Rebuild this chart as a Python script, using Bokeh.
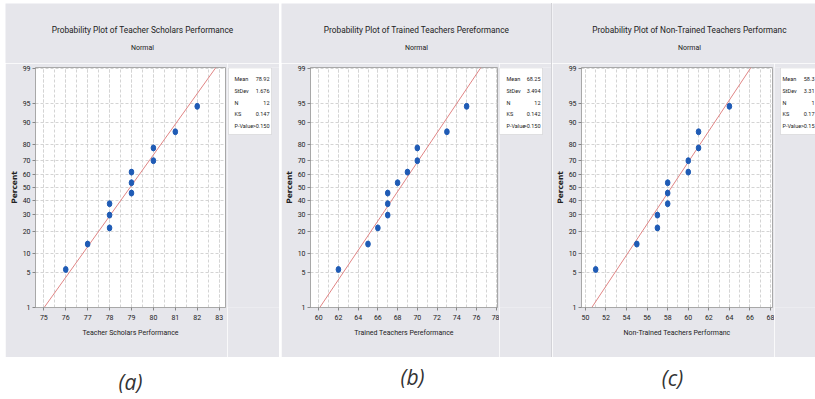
from statistics import NormalDist
from bokeh.plotting import figure
from bokeh.models import Range1d, FixedTicker, SingleIntervalTicker, Label, BoxAnnotation, Spacer
from bokeh.layouts import row, column
from bokeh.embed import file_html
from bokeh.resources import INLINE

# ---------------- data ----------------
percent = [5.6, 13.7, 21.8, 29.8, 37.9, 46.0, 54.0, 62.1, 70.2, 78.2, 86.3, 94.4]
scholars = [76, 77, 78, 78, 78, 79, 79, 79, 80, 80, 81, 82]
trained = [62, 65, 66, 67, 67, 67, 68, 69, 70, 70, 73, 75]
nontrained = [51, 55, 57, 57, 58, 58, 58, 60, 60, 61, 61, 64]
means = [78.92, 68.25, 58.33]
sds = [1.676, 3.494, 3.31]
y_tick_percents = [1, 5, 10, 20, 30, 40, 50, 60, 70, 80, 90, 95, 99]
titles = ["Probability Plot of Teacher Scholars Performance",
          "Probability Plot of Trained Teachers Pereformance",
          "Probability Plot of Non-Trained Teachers Performanc"]
subtitle = "Normal"
x_labels = ["Teacher Scholars Performance", "Trained Teachers Pereformance",
            "Non-Trained Teachers Performanc"]
y_label = "Percent"
stat_names = ["Mean", "StDev", "N", "KS", "P-Value"]
stats_a = ["78.92", "1.676", "12", "0.147", ">0.150"]
stats_b = ["68.25", "3.494", "12", "0.142", ">0.150"]
stats_c = ["58.3", "3.31", "1", "0.17", ">0.15"]   # cut off at the picture's edge
panel_letters = ["(a)", "(b)", "(c)"]

# ---------------- style ----------------
PANEL_BG = "#e6e6eb"
FONT = "Roboto"
BLUE = "#1f5bb5"
LINE = "#e08585"
GRID = "#d4d4d4"
FRAME = "#a8a8a8"
TXT = "#222222"

def zq(pct):
    return NormalDist().inv_cdf(pct / 100.0)

Y_LO, Y_HI = -2.33, 2.346
TOP = 3           # panel top (page y)
TITLE_H = 60      # title strip height
PLOT_TOP = TOP + TITLE_H
PANEL_BOTTOM = 357
PLOT_H = PANEL_BOTTOM - PLOT_TOP
FRAME_TOP, FRAME_BOTTOM = 67, 307


def free_fig(w, h, fill):
    f = figure(width=w, height=h, output_backend="svg", toolbar_location=None,
               x_range=Range1d(0, 1), y_range=Range1d(0, 1),
               x_axis_type=None, y_axis_type=None, min_border=0)
    f.title_location = None
    f.grid.visible = False
    f.outline_line_color = None
    f.border_fill_color = fill
    f.background_fill_color = fill
    return f


def put(fig, left, bottom, X, Y, text, size, align="left", font=FONT, style="normal", color=TXT):
    fig.add_layout(Label(x=X - left, y=bottom - Y, x_units="screen", y_units="screen",
                         text=text, text_font=font, text_font_size=size,
                         text_font_style=style, text_color=color,
                         text_align=align, text_baseline="middle"))


def make_panel(vals, mean, sd, title, xlabel, stats, cfg):
    x0, w = cfg["x0"], cfg["w"]
    fl, fr = cfg["fl"], cfg["fr"]
    plot_w = fr + 2 - x0
    stats_w = w - plot_w

    # title strip
    t = free_fig(w, TITLE_H, PANEL_BG)
    put(t, x0, PLOT_TOP, cfg["tc"], 29, title, "8.3px", "center")
    put(t, x0, PLOT_TOP, cfg["tc"], 47, subtitle, "7px", "center")

    # plot
    p = figure(width=plot_w, height=PLOT_H, output_backend="svg", toolbar_location=None,
               x_range=Range1d(*cfg["xr"]), y_range=Range1d(Y_LO, Y_HI),
               min_border_left=fl - x0, min_border_right=2,
               min_border_top=FRAME_TOP - PLOT_TOP,
               min_border_bottom=PANEL_BOTTOM - FRAME_BOTTOM)
    p.title_location = None
    p.border_fill_color = PANEL_BG
    p.background_fill_color = "white"
    p.outline_line_color = FRAME

    p.xaxis.ticker = SingleIntervalTicker(interval=cfg["iv"], num_minor_ticks=2)
    p.yaxis.ticker = FixedTicker(ticks=[zq(v) for v in y_tick_percents])
    p.yaxis.major_label_overrides = {zq(v): str(v) for v in y_tick_percents}
    for g in (p.xgrid, p.ygrid):
        g.grid_line_color = GRID
        g.grid_line_dash = "3 2"
    p.xgrid.minor_grid_line_color = GRID
    p.xgrid.minor_grid_line_dash = "3 2"

    for ax in (p.xaxis, p.yaxis):
        ax.axis_line_color = FRAME
        ax.major_tick_line_color = "#888888"
        ax.major_tick_in = 0
        ax.major_tick_out = 3
        ax.minor_tick_line_color = None
        ax.major_label_text_font = FONT
        ax.major_label_text_font_size = "7px"
        ax.major_label_text_color = TXT
    p.xaxis.major_label_standoff = 3
    p.yaxis.major_label_standoff = 2
    p.xaxis.axis_label = xlabel
    p.xaxis.axis_label_text_font = FONT
    p.xaxis.axis_label_text_font_size = "7px"
    p.xaxis.axis_label_text_font_style = "normal"
    p.xaxis.axis_label_text_color = TXT
    p.xaxis.axis_label_standoff = 6
    p.yaxis.axis_label = y_label
    p.yaxis.axis_label_text_font = "DejaVu Sans"
    p.yaxis.axis_label_text_font_size = "7.5px"
    p.yaxis.axis_label_text_font_style = "bold"
    p.yaxis.axis_label_text_color = TXT
    p.yaxis.axis_label_standoff = 1

    ys = [zq(1), Y_HI]
    p.line([mean + sd * y for y in ys], ys, line_color=LINE, line_width=1)
    p.ellipse(x=vals, y=[zq(v) for v in percent], width=4.6, height=6,
              width_units="screen", height_units="screen",
              fill_color=BLUE, line_color=BLUE)

    # stats box strip (its frame is aligned with the plot frame: 67..307)
    s = free_fig(stats_w, PLOT_H, PANEL_BG)
    sx0 = fr + 2
    bx0, bx1 = cfg["box"]
    s.add_layout(BoxAnnotation(left=bx0 - sx0, right=bx1 - sx0,
                               top=FRAME_BOTTOM - 67.5, bottom=FRAME_BOTTOM - 134,
                               left_units="screen", right_units="screen",
                               top_units="screen", bottom_units="screen",
                               fill_color="white", fill_alpha=1.0,
                               line_color="#b4b4b4", line_width=1))
    rows_y = [78.5, 90.5, 102, 113.5, 125.5]
    for name, val, yy in zip(stat_names, stats, rows_y):
        put(s, sx0, FRAME_BOTTOM, cfg["nx"], yy, name, "5.5px", "left")
        put(s, sx0, FRAME_BOTTOM, cfg["vx"], yy, val, "5.5px", "right")

    return column(t, row(p, s))


cfgs = [
    dict(x0=5, w=274, fl=35, fr=225, xr=(74.62, 83.29), iv=1, tc=142,
         box=(228, 271), nx=234, vx=269),
    dict(x0=281, w=270, fl=307, fr=497, xr=(59.17, 78.13), iv=2, tc=416,
         box=(499, 542), nx=506, vx=540),
    dict(x0=552, w=263, fl=577, fr=772, xr=(49.62, 68.19), iv=2, tc=689,
         box=(780, 830), nx=782, vx=814),
]
series = [scholars, trained, nontrained]
stats_all = [stats_a, stats_b, stats_c]

panels = [make_panel(series[i], means[i], sds[i], titles[i], x_labels[i], stats_all[i], cfgs[i])
          for i in range(3)]

# bottom captions
CAP_H = 40
cap = free_fig(815, CAP_H, "white")
for letter, X, Y in zip(panel_letters, [130, 412, 672], [381, 376, 377]):
    put(cap, 0, PANEL_BOTTOM + CAP_H, X, Y, letter, "21px", "center",
        font="Open Sans", style="italic", color="#333333")

sep = Spacer(width=1, height=PANEL_BOTTOM - TOP, styles={"background-color": "#d2d2d7"})
layout = column(
    Spacer(width=815, height=TOP),
    row(Spacer(width=5, height=PANEL_BOTTOM - TOP), panels[0],
        Spacer(width=2, height=PANEL_BOTTOM - TOP), panels[1], sep, panels[2]),
    cap,
)

open("out.html", "w").write(file_html(layout, INLINE))
